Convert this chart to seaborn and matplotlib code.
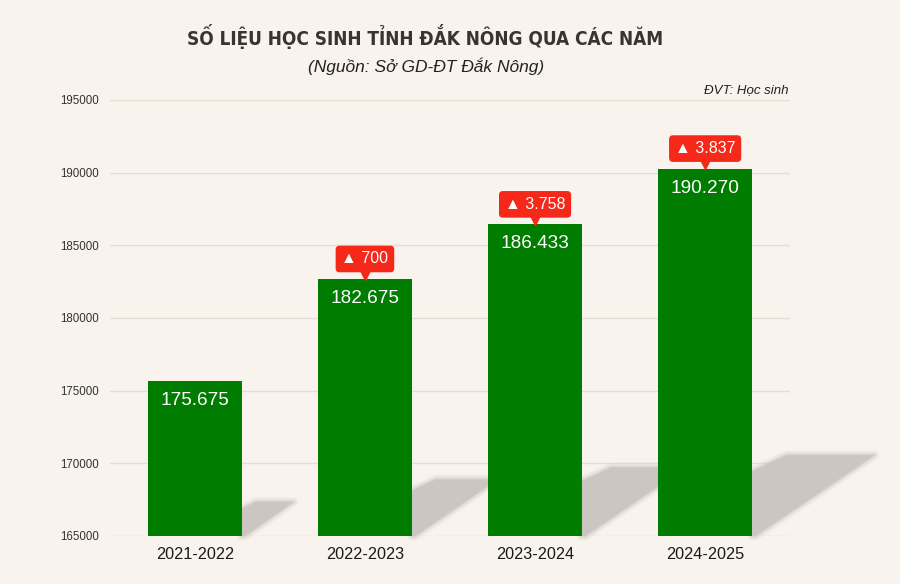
import matplotlib
matplotlib.use("Agg")
import matplotlib.pyplot as plt
import matplotlib.transforms as mtransforms
from matplotlib import font_manager
from matplotlib.patches import Polygon
import seaborn as sns

# data
years = ["2021-2022", "2022-2023", "2023-2024", "2024-2025"]
students = [175675, 182675, 186433, 190270]
increase_labels = ["", "700", "3.758", "3.837"]
y_ticks = [165000, 170000, 175000, 180000, 185000, 190000, 195000]

bg = "#f9f3ed"
green = "#007c00"
red = "#f5281a"
grid_col = "#e4ddd6"
shadow_col = "#cbc6c2"

sns.set_style("white")
plt.rcParams["font.family"] = ["Liberation Sans", "DejaVu Sans"]

fig = plt.figure(figsize=(9, 5.84), dpi=100, facecolor=bg)
ax = fig.add_axes([0.122, 0.0822, 0.756, 0.7466])
ax.set_facecolor(bg)

sns.barplot(x=years, y=students, color=green, saturation=1, width=0.55, ax=ax,
            zorder=3, linewidth=0, edgecolor=green)

base = y_ticks[0]
ax.set_ylim(base, y_ticks[-1])
ax.set_xlim(-0.5, len(years) - 0.5)
ax.set_yticks(y_ticks)
ax.set_yticklabels([str(t) for t in y_ticks], fontsize=8.3, color="#333333")
ax.tick_params(axis="y", length=0, pad=8)
ax.tick_params(axis="x", length=0, pad=8, labelsize=11.7, labelcolor="#1a1a1a")
ax.set_xlabel("")
ax.set_ylabel("")
for s in ax.spines.values():
    s.set_visible(False)
ax.yaxis.grid(True, color=grid_col, linewidth=1, zorder=0)
ax.set_axisbelow(True)

# soft shadows cast to the right of each bar
for i, p in enumerate(ax.patches[:len(students)]):
    h = students[i] - base
    x_r = p.get_x() + p.get_width()
    top_s = base + 0.22 * h
    y1 = base + 0.8 * 0.22 * h
    b = 2.85e-5 * h
    a = 0.28 * b
    pts = [(x_r, base), (x_r, y1), (x_r + a, top_s), (x_r + b, top_s), (x_r + 0.02, base)]
    # a few faint outlines fake the blur of the edge
    for lw, al in [(7, 0.15), (4.5, 0.25), (2, 0.45)]:
        ax.add_patch(Polygon(pts, closed=True, facecolor="none", edgecolor=shadow_col,
                             linewidth=lw, alpha=al, joinstyle="round", zorder=2, clip_on=False))
    ax.add_patch(Polygon(pts, closed=True, facecolor=shadow_col, edgecolor="none",
                         zorder=2.1, clip_on=False))

# value labels inside bars
for i, v in enumerate(students):
    ax.annotate(f"{v:,}".replace(",", "."), (i, v), xytext=(0, -14), textcoords="offset points",
                ha="center", va="center", color="white", fontsize=13.7, zorder=5)

# red increase badges
for i, lab in enumerate(increase_labels):
    if not lab:
        continue
    v = students[i]
    tri = mtransforms.offset_copy(ax.transData, fig=fig, x=0, y=4, units="points")
    ax.plot([i], [v], marker="v", markersize=8, color=red, transform=tri, zorder=6, clip_on=False)
    ax.annotate("\u25B2 " + lab, (i, v), xytext=(0, 14.5), textcoords="offset points",
                ha="center", va="center", color="white", fontsize=11.5, zorder=7,
                bbox=dict(boxstyle="round,pad=0.32,rounding_size=0.2", fc=red, ec=red))

# title font: narrowest bold face available
names = {f.name for f in font_manager.fontManager.ttflist}
if "Liberation Sans Narrow" in names:
    title_kw = dict(family="Liberation Sans Narrow", fontweight="bold")
else:
    title_kw = dict(family="DejaVu Sans", fontweight="bold", fontstretch="condensed")

title = fig.text(0.472, 0.938, "SỐ LIỆU HỌC SINH TỈNH ĐẮK NÔNG QUA CÁC NĂM", ha="center", va="center",
                 fontsize=20, color="#3a3330", **title_kw)
fig.canvas.draw()
w = title.get_window_extent().width
if w > 480:
    title.set_fontsize(20 * 476 / w)

fig.text(0.473, 0.887, "(Nguồn: Sở GD-ĐT Đắk Nông)", ha="center", va="center",
         fontsize=12.5, style="italic", color="#222222")
fig.text(0.876, 0.846, "ĐVT: Học sinh", ha="right", va="center",
         fontsize=9.5, style="italic", color="#222222")

fig.savefig("out.png", dpi=100, facecolor=bg)
